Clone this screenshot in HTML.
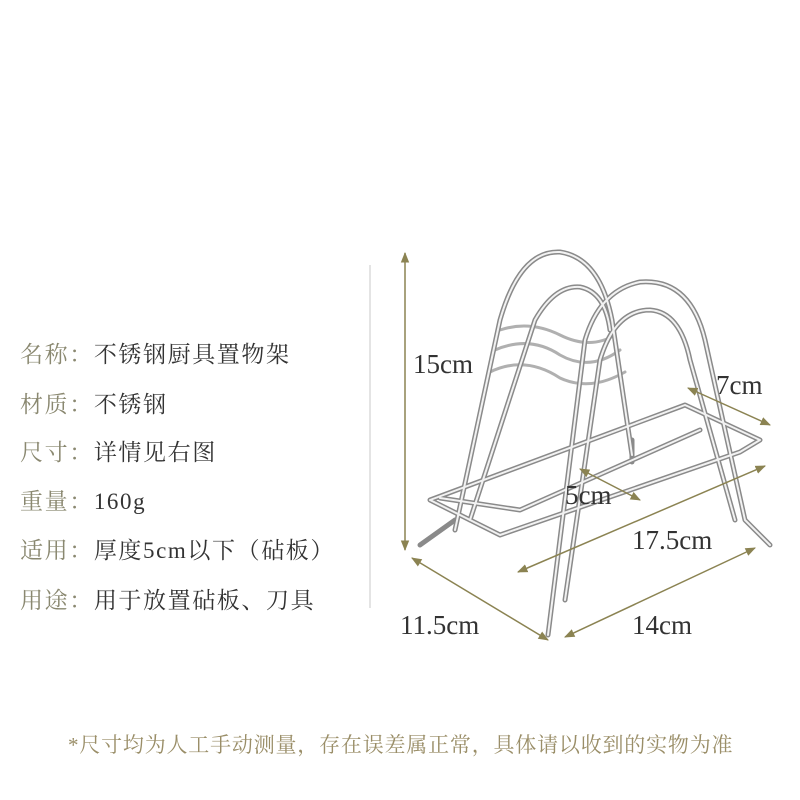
<!DOCTYPE html>
<html><head><meta charset="utf-8"><style>
body{margin:0;width:800px;height:800px;background:#fff;position:relative;overflow:hidden;font-family:"Liberation Serif","Noto Serif CJK SC",serif}
.row{position:absolute;left:20px;font-size:23px;letter-spacing:1.6px;color:#333;white-space:nowrap;line-height:30px}
.row b{font-weight:normal;color:#8a8870}
.note{position:absolute;left:68px;top:729px;font-size:21px;letter-spacing:0.8px;color:#9a8e68;white-space:nowrap}
svg{position:absolute;left:0;top:0}
</style></head><body>
<div class="row" style="top:340px"><b>名称：</b>不锈钢厨具置物架</div>
<div class="row" style="top:390px"><b>材质：</b>不锈钢</div>
<div class="row" style="top:438px"><b>尺寸：</b>详情见右图</div>
<div class="row" style="top:487px"><b>重量：</b>160g</div>
<div class="row" style="top:536px"><b>适用：</b>厚度5cm以下（砧板）</div>
<div class="row" style="top:586px"><b>用途：</b>用于放置砧板、刀具</div>
<div class="note">*尺寸均为人工手动测量，存在误差属正常，具体请以收到的实物为准</div>
<svg width="800" height="800" viewBox="0 0 800 800">
<defs><marker id="a" viewBox="0 0 10 10" refX="9" refY="5" markerWidth="7" markerHeight="7" orient="auto-start-reverse"><path d="M0,1 L10,5 L0,9 z" fill="#8b8352"/></marker></defs>
<line x1="370" y1="265" x2="370" y2="608" stroke="#e4e4e4" stroke-width="2"/>
<g fill="none" stroke-linecap="round" stroke-linejoin="round">
<g stroke="#b0b0b0" stroke-width="3">
<path d="M500,330 Q530,320 560,335 Q590,350 615,335"/>
<path d="M495,350 Q530,335 560,355 Q590,372 620,350"/>
<path d="M490,372 Q525,355 560,378 Q590,392 625,372"/>
</g>
<g stroke="#8a8a8a" stroke-width="5">
<path d="M455,530 L500,320 Q520,250 560,252 Q600,258 612,320 L632,455"/>
<path d="M470,520 L535,320 Q555,285 580,287 Q605,292 610,330"/>
<path d="M430,500 L685,405 L760,440 L740,452 L500,535 Z"/>
<path d="M440,498 L520,510 L700,430"/>
<path d="M455,520 L420,545"/>
<path d="M632,440 L632,462"/>
<path d="M548,635 L585,340 Q600,290 640,282 Q690,278 705,340 L745,520 L770,545"/>
<path d="M565,600 L600,360 Q615,310 650,310 Q680,312 690,360 L735,520"/>
</g>
<g stroke="#f2f2f2" stroke-width="2">
<path d="M455,530 L500,320 Q520,250 560,252 Q600,258 612,320 L632,455"/>
<path d="M470,520 L535,320 Q555,285 580,287 Q605,292 610,330"/>
<path d="M430,500 L685,405 L760,440 L740,452 L500,535 Z"/>
<path d="M440,498 L520,510 L700,430"/>
<path d="M548,635 L585,340 Q600,290 640,282 Q690,278 705,340 L745,520 L770,545"/>
<path d="M565,600 L600,360 Q615,310 650,310 Q680,312 690,360 L735,520"/>
</g>
</g>
<g stroke="#8b8352" stroke-width="1.5" marker-start="url(#a)" marker-end="url(#a)">
<line x1="405" y1="253" x2="405" y2="550"/>
<line x1="688" y1="388" x2="770" y2="425"/>
<line x1="580" y1="469" x2="640" y2="500"/>
<line x1="518" y1="572" x2="765" y2="466"/>
<line x1="412" y1="558" x2="548" y2="640"/>
<line x1="565" y1="637" x2="755" y2="548"/>
</g>
<g font-family="Liberation Serif,serif" font-size="27" fill="#333">
<text x="413" y="373">15cm</text>
<text x="716" y="394">7cm</text>
<text x="565" y="504">5cm</text>
<text x="632" y="549">17.5cm</text>
<text x="400" y="634">11.5cm</text>
<text x="632" y="634">14cm</text>
</g>
</svg>
</body></html>
